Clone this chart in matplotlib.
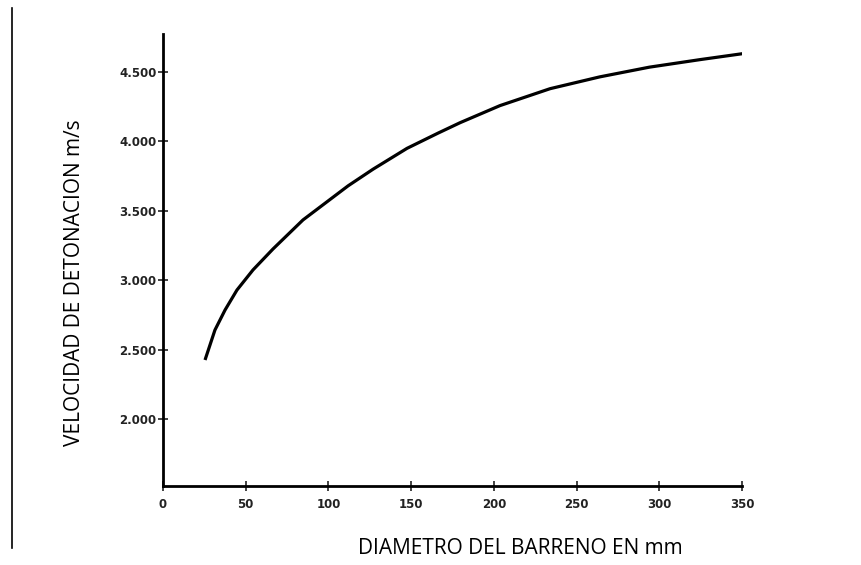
import matplotlib.pyplot as plt
from matplotlib.lines import Line2D

# values
diametro = [25.4, 31.4, 37.5, 44.7, 54.4, 66.5, 84.6, 111.9, 127, 147.5,
            166.3, 179.6, 203.7, 234, 264, 294, 325, 352]
velocidad = [2425, 2641, 2785, 2929, 3074, 3225, 3434, 3680, 3800, 3950,
             4060, 4135, 4258, 4380, 4465, 4535, 4590, 4635]

x_ticks = [0, 50, 100, 150, 200, 250, 300, 350]
y_ticks = [2000, 2500, 3000, 3500, 4000, 4500]
y_labels = ['2.000', '2.500', '3.000', '3.500', '4.000', '4.500']

fig = plt.figure(figsize=(8.61, 5.65), dpi=100)
ax = fig.add_axes([163 / 861, 1 - 486 / 565, (742 - 163) / 861, (486 - 34) / 565])

ax.plot(diametro, velocidad, color='black', lw=2.3, solid_capstyle='butt')

ax.set_xlim(0, 350)
ax.set_ylim(1517, 4774)
ax.set_xticks(x_ticks)
ax.set_yticks(y_ticks)
ax.set_yticklabels(y_labels)

for s in ['top', 'right']:
    ax.spines[s].set_visible(False)
ax.spines['left'].set_linewidth(2)
ax.spines['bottom'].set_linewidth(2)
ax.tick_params(direction='inout', length=7, width=1.2, labelsize=8.5,
               colors='#222222')
ax.tick_params(axis='y', pad=1)
ax.tick_params(axis='x', pad=5)
for lab in ax.get_xticklabels() + ax.get_yticklabels():
    lab.set_fontweight('bold')

fig.text(520 / 861, 1 - 548 / 565, 'DIAMETRO DEL BARRENO EN mm',
         ha='center', va='center', fontsize=15, family='Open Sans')
fig.text(75 / 861, 1 - 283 / 565, 'VELOCIDAD DE DETONACION m/s',
         ha='center', va='center', rotation=90, fontsize=15, family='Open Sans')

# border line on the left of the picture
fig.add_artist(Line2D([12 / 861, 12 / 861], [1 - 548 / 565, 1 - 8 / 565],
                      color='black', lw=1.2))

fig.savefig('out.png', dpi=100)
